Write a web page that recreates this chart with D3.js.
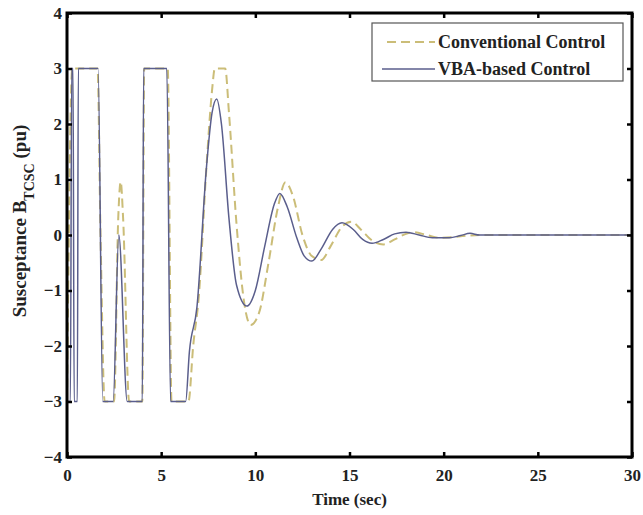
<!DOCTYPE html>
<html lang="en">
<head>
    <meta charset="UTF-8">
    <title>TCSC Susceptance</title>
    <script src="https://d3js.org/d3.v7.min.js"></script>
</head>
<body>
    <div id="chart"></div>
    <script>
        // Conventional control (dashed)
        const convT = [0, 0.28, 0.36, 1.62, 1.78, 2.0, 2.5, 2.72, 2.85, 2.98, 3.3, 4.0, 4.1, 5.35, 5.55, 6.45,
            6.7, 7.0, 7.4, 7.7, 7.85, 8.4, 8.6, 9.0, 9.4, 9.75, 10.2, 10.7, 11.2, 11.6, 12.0, 12.5, 13.0, 13.5,
            14.0, 14.6, 15.1, 15.6, 16.2, 16.8, 17.4, 18.0, 18.4, 19.1, 19.8, 20.5, 21.0, 22, 30];
        const convV = [-3, 3, 3, 3, 0, -3, -3, 0.3, 0.96, 0.3, -3, -3, 3, 3, -3, -3,
            -2.0, -1.1, 1.2, 2.6, 3, 3, 2.2, 0.2, -1.2, -1.62, -1.4, -0.5, 0.5, 0.95, 0.7, 0.0, -0.38, -0.45,
            -0.2, 0.15, 0.24, 0.1, -0.1, -0.17, -0.08, 0.02, 0.05, 0.0, -0.05, -0.04, -0.02, 0, 0];

        // VBA-based control (solid)
        const vbaT = [0, 0.18, 0.25, 0.32, 0.38, 0.55, 0.6, 1.65, 1.9, 2.45, 2.75, 3.2, 4.0, 4.07, 5.3, 5.5, 6.3,
            6.5, 6.9, 7.4, 7.7, 7.95, 8.2, 8.6, 9.0, 9.55, 10.0, 10.5, 11.0, 11.3, 11.7, 12.2, 12.6, 13.0, 13.5,
            14.1, 14.6, 15.2, 15.7, 16.2, 16.8, 17.4, 18.0, 18.7, 19.4, 20.3, 20.9, 21.4, 21.9, 30];
        const vbaV = [-3, -3, 3, 3, -3, -3, 3, 3, -3, -3, 0, -3, -3, 3, 3, -3, -3,
            -2.1, -1.3, 1.2, 2.2, 2.45, 2.0, 0.3, -0.9, -1.28, -1.0, -0.2, 0.55, 0.75, 0.5, -0.05, -0.38, -0.47, -0.25,
            0.1, 0.22, 0.1, -0.08, -0.15, -0.08, 0.02, 0.05, 0.0, -0.05, -0.05, -0.01, 0.03, 0, 0];

        const xTicks = [0, 5, 10, 15, 20, 25, 30];
        const yTicks = [-4, -3, -2, -1, 0, 1, 2, 3, 4];

        const seriesNames = ['Conventional Control', 'VBA-based Control'];

        const width = 643, height = 515;
        const margin = { top: 13, right: 11, bottom: 58, left: 67 };
        const innerW = width - margin.left - margin.right;
        const innerH = height - margin.top - margin.bottom;

        const svg = d3.select('#chart').append('svg')
            .attr('width', width)
            .attr('height', height);

        const g = svg.append('g')
            .attr('transform', `translate(${margin.left},${margin.top})`);

        const x = d3.scaleLinear().domain([0, 30]).range([0, innerW]);
        const y = d3.scaleLinear().domain([-4, 4]).range([innerH, 0]);

        const font = '"Liberation Serif", "Times New Roman", serif';

        // lines
        const line = d3.line()
            .x(d => x(d[0]))
            .y(d => y(d[1]))
            .curve(d3.curveMonotoneX);

        const convData = convT.map((t, i) => [t, convV[i]]);
        const vbaData = vbaT.map((t, i) => [t, vbaV[i]]);

        g.append('path')
            .attr('d', line(convData))
            .attr('fill', 'none')
            .attr('stroke', '#cbbd78')
            .attr('stroke-width', 2)
            .attr('stroke-dasharray', '9,5');

        g.append('path')
            .attr('d', line(vbaData))
            .attr('fill', 'none')
            .attr('stroke', '#5a5e8c')
            .attr('stroke-width', 1.5);

        // axes (inward ticks, all four sides)
        const bottomAxis = d3.axisBottom(x).tickValues(xTicks).tickSize(-5).tickPadding(12);
        const leftAxis = d3.axisLeft(y).tickValues(yTicks).tickSize(-5).tickPadding(9);

        g.append('g').attr('transform', `translate(0,${innerH})`).call(bottomAxis);
        const gy = g.append('g').call(leftAxis);
        g.append('g').call(d3.axisTop(x).tickValues(xTicks).tickSize(-5).tickFormat(''));
        g.append('g').attr('transform', `translate(${innerW},0)`)
            .call(d3.axisRight(y).tickValues(yTicks).tickSize(-5).tickFormat(''));

        g.selectAll('.domain').remove();
        g.selectAll('.tick line').attr('stroke', '#000').attr('stroke-width', 2.5);
        g.selectAll('.tick text')
            .attr('font-family', font)
            .attr('font-weight', 'bold')
            .attr('font-size', 17)
            .attr('fill', '#222');
        gy.selectAll('.tick text').attr('dx', 4);

        g.append('rect')
            .attr('width', innerW)
            .attr('height', innerH)
            .attr('fill', 'none')
            .attr('stroke', '#000')
            .attr('stroke-width', 3);

        // axis labels
        svg.append('text')
            .attr('x', margin.left + innerW / 2)
            .attr('y', 505)
            .attr('text-anchor', 'middle')
            .attr('font-family', font)
            .attr('font-weight', 'bold')
            .attr('font-size', 17)
            .attr('fill', '#222')
            .text('Time (sec)');

        const yl = svg.append('text')
            .attr('transform', `translate(26,221) rotate(-90)`)
            .attr('text-anchor', 'middle')
            .attr('font-family', font)
            .attr('font-weight', 'bold')
            .attr('font-size', 19)
            .attr('fill', '#222');
        yl.append('tspan').text('Susceptance B');
        yl.append('tspan').attr('dy', 8).attr('font-size', 14).text('TCSC');
        yl.append('tspan').attr('dy', -8).text(' (pu)');

        // legend
        const lg = svg.append('g').attr('transform', 'translate(372,23)');
        lg.append('rect')
            .attr('width', 251)
            .attr('height', 58)
            .attr('fill', '#fff')
            .attr('stroke', '#555')
            .attr('stroke-width', 1.2);

        const legendStyles = [
            { color: '#cbbd78', dash: '9,5', w: 2, x1: 15 },
            { color: '#5a5e8c', dash: null, w: 1.5, x1: 10 }
        ];
        seriesNames.forEach((name, i) => {
            const ly = 19 + i * 27;
            lg.append('line')
                .attr('x1', legendStyles[i].x1).attr('x2', 63)
                .attr('y1', ly).attr('y2', ly)
                .attr('stroke', legendStyles[i].color)
                .attr('stroke-width', legendStyles[i].w)
                .attr('stroke-dasharray', legendStyles[i].dash);
            lg.append('text')
                .attr('x', 66)
                .attr('y', ly + 6)
                .attr('font-family', font)
                .attr('font-weight', 'bold')
                .attr('font-size', 18)
                .attr('fill', '#222')
                .text(name);
        });
    </script>
</body>
<style>
    body { margin: 0; background: #fff; }
</style>
</html>
